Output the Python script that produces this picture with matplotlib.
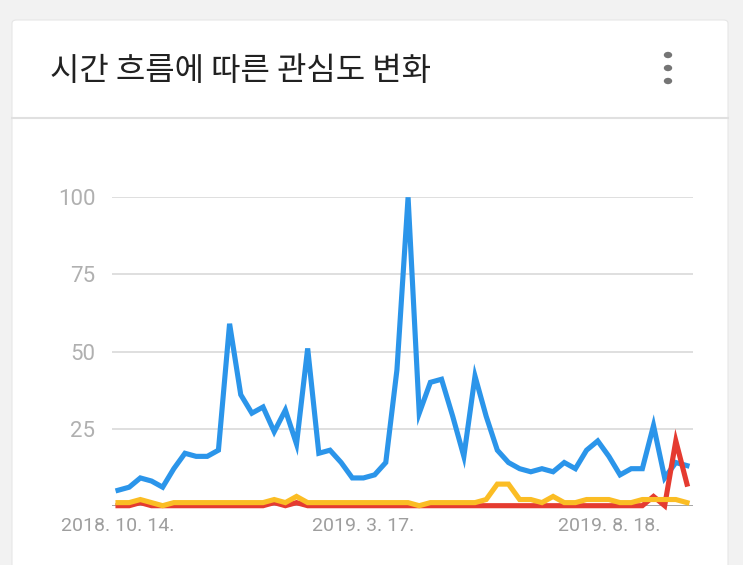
import numpy as np
import pandas as pd
import matplotlib
matplotlib.use('Agg')
import matplotlib.pyplot as plt
import matplotlib.dates as mdates
from matplotlib.patches import FancyBboxPatch, Circle

# weekly values, 2018-10-14 .. 2019-10-06
weeks = pd.date_range('2018-10-14', periods=52, freq='7D')
blue = [5, 6, 9, 8, 6, 12, 17, 16, 16, 18, 59, 36, 30, 32, 24, 31, 20, 51, 17, 18,
        14, 9, 9, 10, 14, 44, 100, 30, 40, 41, 29, 16, 42, 29, 18, 14, 12, 11, 12, 11,
        14, 12, 18, 21, 16, 10, 12, 12, 26, 9, 14, 13]
red = [0, 0, 1, 0, 0, 0, 0, 0, 0, 0, 0, 0, 0, 0, 1, 0, 1, 0, 0, 0,
       0, 0, 0, 0, 0, 0, 0, 0, 0, 0, 0, 0, 0, 0, 0, 0, 0, 0, 0, 0,
       0, 0, 0, 0, 0, 0, 0, 0, 3, 0, 21, 7]
yellow = [1, 1, 2, 1, 0, 1, 1, 1, 1, 1, 1, 1, 1, 1, 2, 1, 3, 1, 1, 1,
          1, 1, 1, 1, 1, 1, 1, 0, 1, 1, 1, 1, 1, 2, 7, 7, 2, 2, 1, 3,
          1, 1, 2, 2, 2, 1, 1, 2, 2, 2, 2, 1]
yticks = [25, 50, 75, 100]
xtick_dates = ['2018-10-14', '2019-03-17', '2019-08-18']
xtick_labels = ['2018. 10. 14.', '2019. 3. 17.', '2019. 8. 18.']
title = '시간 흐름에 따른 관심도 변화'

W, H = 743, 565
fig = plt.figure(figsize=(W/100, H/100), dpi=100, facecolor='#f2f2f2')

# card
card = FancyBboxPatch((12/W, -0.05), 716/W, (H-20)/H + 0.05, boxstyle='round,pad=0,rounding_size=0.006',
                      transform=fig.transFigure, facecolor='white', edgecolor='#e6e6e6', lw=0.8, zorder=-5)
fig.patches.append(card)
fig.add_artist(plt.Line2D([12/W, 728/W], [1-118/H, 1-118/H], color='#e0e0e0', lw=1.5, zorder=-4))
fig.text(50/W, 1-71/H, title, fontsize=23, family=['Noto Sans CJK KR', 'DejaVu Sans'],
         color='#212121', va='center', ha='left')
for yy in [55, 68, 81]:
    fig.patches.append(Circle((668/W, 1-yy/H), 4.2/W, transform=fig.transFigure,
                              facecolor='#757575', edgecolor='none'))

ax = fig.add_axes([112/W, (H-505.7)/H, 581/W, 308.4/H], zorder=2)
ax.set_facecolor('none')
x = mdates.date2num(weeks)
step = x[1] - x[0]
ax.plot(x, blue, color='#2b95ea', lw=3.7, clip_on=False, solid_joinstyle='miter', zorder=3)
ax.plot(x, red, color='#e53b30', lw=3.7, clip_on=False, solid_joinstyle='miter', zorder=4)
ax.plot(x, yellow, color='#fbbd24', lw=3.7, clip_on=False, solid_joinstyle='miter', zorder=5)
ax.set_xlim(x[0] - 0.54*step, x[-1] + 0.54*step)
ax.set_ylim(0, 100)

for t in yticks:
    ax.axhline(t, color='#dcdcdc', lw=1.3, zorder=1)
ax.axhline(0, color='#9e9e9e', lw=1.3, zorder=2)
for s in ax.spines.values():
    s.set_visible(False)
ax.set_yticks(yticks)
ax.set_yticklabels([str(t) for t in yticks], fontsize=16, family='Roboto', color='#b0b0b0')
ax.set_xticks(mdates.date2num(pd.to_datetime(xtick_dates)))
ax.set_xticklabels(xtick_labels, fontsize=14, family='Roboto', color='#9e9e9e')
ax.tick_params(length=0)
ax.tick_params(axis='y', pad=12)
ax.tick_params(axis='x', pad=8)

fig.savefig('out.png', dpi=100, facecolor=fig.get_facecolor())
